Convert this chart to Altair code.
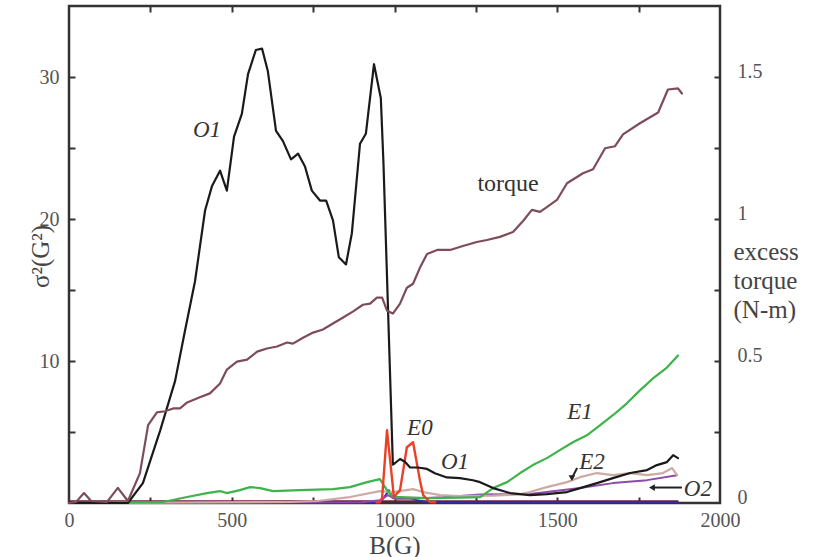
import altair as alt
import pandas as pd

# ---------------- data ----------------
# O1 (black), sigma^2 in G^2
O1_B = [0, 181, 227, 280, 326, 356, 387, 418, 439, 464, 485, 507, 531, 550, 574, 593, 611, 636, 657, 682,
        704, 725, 746, 771, 790, 811, 829, 851, 869, 894, 912, 937, 958, 966, 995, 1001, 1017, 1032, 1048, 1072,
        1100, 1124, 1161, 1201, 1241, 1263, 1303, 1355, 1416, 1468, 1530, 1570, 1622, 1671, 1724, 1776, 1806, 1837, 1856, 1871]
O1_V = [0, 0, 1.4, 5.1, 8.6, 12.1, 15.6, 20.6, 22.3, 23.4, 22.0, 25.8, 27.4, 30.2, 31.9, 32.0, 30.4, 26.2, 25.5, 24.2,
        24.6, 23.7, 22.0, 21.3, 21.3, 19.9, 17.3, 16.8, 19.0, 25.3, 26.0, 30.9, 28.5, 24.0, 2.7, 2.8, 3.1, 2.9, 2.5, 2.5,
        2.4, 2.1, 1.8, 1.75, 1.6, 1.47, 1.05, 0.70, 0.56, 0.63, 0.77, 1.05, 1.40, 1.75, 2.11, 2.32, 2.67, 2.88, 3.37, 3.16]

# excess torque (N-m), right axis
TQ_B = [0, 22, 46, 68, 117, 150, 181, 218, 243, 270, 295, 320, 341, 363, 402, 433, 464, 485, 516, 547,
        578, 608, 639, 670, 688, 719, 750, 780, 811, 842, 872, 903, 925, 946, 962, 977, 995, 1017, 1038, 1057,
        1078, 1100, 1131, 1171, 1210, 1253, 1284, 1324, 1364, 1395, 1422, 1447, 1468, 1499, 1530, 1579, 1610, 1647, 1677, 1702,
        1754, 1810, 1840, 1871, 1883]
TQ_V = [0, 0.004, 0.035, 0.007, 0.004, 0.053, 0.007, 0.105, 0.274, 0.319, 0.323, 0.333, 0.333, 0.354, 0.372, 0.386, 0.421, 0.470, 0.498, 0.505,
        0.533, 0.544, 0.551, 0.565, 0.561, 0.582, 0.600, 0.611, 0.632, 0.653, 0.674, 0.698, 0.702, 0.723, 0.723, 0.677, 0.667, 0.702, 0.758, 0.772,
        0.828, 0.877, 0.891, 0.891, 0.905, 0.919, 0.926, 0.937, 0.954, 0.993, 1.032, 1.025, 1.042, 1.067, 1.126, 1.161, 1.175, 1.249, 1.256, 1.298,
        1.337, 1.375, 1.456, 1.460, 1.442]

# E1 (green)
E1_B = [0, 289, 363, 424, 464, 485, 525, 556, 587, 627, 710, 811, 863, 916, 955, 977, 995, 1017, 1100, 1201,
        1263, 1303, 1346, 1386, 1425, 1468, 1508, 1548, 1591, 1631, 1671, 1714, 1754, 1794, 1837, 1871]
E1_V = [0, 0.07, 0.42, 0.70, 0.84, 0.70, 0.91, 1.12, 1.05, 0.84, 0.91, 0.98, 1.12, 1.47, 1.68, 0.91, 0.42, 0.42, 0.35, 0.38,
        0.42, 1.05, 1.47, 2.11, 2.67, 3.16, 3.72, 4.28, 4.77, 5.47, 6.18, 7.02, 7.93, 8.77, 9.54, 10.39]

# E0 (red)
E0_B = [945, 955, 962, 977, 992, 998, 1017, 1038, 1057, 1078, 1088, 1109, 1125]
E0_V = [0.05, 0.05, 0.35, 5.12, 1.82, 0.42, 0.91, 3.93, 4.28, 1.61, 0.56, 0.07, 0.05]

# E2 (light brown)
E2_B = [0, 679, 762, 863, 955, 995, 1057, 1088, 1140, 1201, 1303, 1380, 1416, 1468, 1530, 1570, 1622, 1671, 1724, 1776,
        1825, 1853, 1868]
E2_V = [0, 0.07, 0.14, 0.42, 0.84, 0.77, 0.98, 0.77, 0.56, 0.49, 0.52, 0.6, 0.77, 1.12, 1.47, 1.82, 2.11, 1.96, 2.11, 1.96,
        2.11, 2.46, 1.96]

# O2 (purple)
O2_B = [0, 900, 955, 980, 1000, 1048, 1150, 1263, 1416, 1570, 1671, 1776, 1868]
O2_V = [0, 0.05, 0.2, 0.55, 0.3, 0.3, 0.4, 0.6, 0.63, 1.05, 1.40, 1.61, 1.96]

# unlabelled dark blue trace
BL_B = [0, 955, 968, 983, 995, 1048, 1068, 1100, 1870]
BL_V = [0, 0.05, 0.4, 0.9, 0.35, 0.35, 0.2, 0.05, 0.05]

# unlabelled dark maroon trace along zero
BASE_B = [0, 600, 1200, 1870]
BASE_V = [0.12, 0.12, 0.12, 0.12]

# curve labels (italic)
LABEL_TEXT = ["O1", "E0", "O1", "E1", "E2", "O2"]
LABEL_B = [424, 1078, 1186, 1570, 1607, 1932]
LABEL_V = [26.3, 5.26, 2.88, 6.4, 2.88, 0.98]

TORQUE_TEXT = ["torque"]
TORQUE_B = [1349]
TORQUE_V = [22.46]

# arrows: from -> to (head)
ARROW_B_FROM = [1561, 1883]
ARROW_V_FROM = [2.46, 1.09]
ARROW_B_TO = [1545, 1791]
ARROW_V_TO = [1.75, 1.09]
ARROW_HEAD = ["triangle-down", "triangle-left"]

# axis ticks / labels
X_LABELS = [0, 500, 1000, 1500, 2000]
X_TICKS = [250, 500, 750, 1000, 1250, 1500, 1750]
YL_LABELS = [10, 20, 30]
YL_TICKS = [5, 10, 15, 20, 25, 30]
YR_LABELS = [0, 0.5, 1, 1.5]

# ---------------- chart ----------------
FONT = "Liberation Serif"
W, H = 651, 497

xs = alt.Scale(domain=[0, 2000], nice=False, zero=False)
ys = alt.Scale(domain=[0, 35], nice=False, zero=False)
yt = alt.Scale(domain=[0, 1.75], nice=False, zero=False)

LBL = dict(labelFont=FONT, labelFontSize=20, labelColor="#555555",
           titleFont=FONT, titleFontSize=25, titleFontWeight="normal", titleColor="#444444",
           grid=False, domain=False)
TCK = dict(labels=False, domain=False, grid=False, ticks=True, tickSize=6, tickWidth=2,
           tickColor="#333333", offset=-6, title=None)

ax_bottom = alt.Axis(orient="bottom", values=X_LABELS, format="d", ticks=False, tickSize=0, labelPadding=7,
                     labelFlush=False, title="B(G)", titleY=42, titleBaseline="middle", **LBL)
ax_left = alt.Axis(orient="left", values=YL_LABELS, format="d", ticks=False, tickSize=0, labelPadding=10,
                   labelBaseline="middle", title="σ²(G²)", titleX=-29, titleY=250, titleAngle=270,
                   titleAlign="center", titleBaseline="middle", **LBL)
ax_right = alt.Axis(orient="right", values=YR_LABELS, format="~g", ticks=False, tickSize=0, labelPadding=17,
                    labelBaseline="alphabetic", title=["excess", "torque", "(N-m)"], titleAngle=0,
                    titleAlign="left", titleBaseline="top", titleX=13, titleY=233, titleLineHeight=29, **LBL)
ax_tb = alt.Axis(orient="bottom", values=X_TICKS, **TCK)
ax_tt = alt.Axis(orient="top", values=X_TICKS, **TCK)
ax_tl = alt.Axis(orient="left", values=YL_TICKS, **TCK)
ax_tr = alt.Axis(orient="right", values=YL_TICKS, **TCK)


def line(b, v, color, width, xaxis=None, yaxis=None, yscale=ys):
    return alt.Chart(pd.DataFrame({"B": b, "v": v})).mark_line(
        color=color, strokeWidth=width, strokeJoin="round", strokeCap="round"
    ).encode(
        x=alt.X("B:Q", scale=xs, axis=xaxis),
        y=alt.Y("v:Q", scale=yscale, axis=yaxis),
    )


base = line(BASE_B, BASE_V, "#6e1f3f", 2)
blue = line(BL_B, BL_V, "#2e2e9c", 2)
o2 = line(O2_B, O2_V, "#8d4aa8", 2)
e2 = line(E2_B, E2_V, "#cdaaa2", 2.2)
e1 = line(E1_B, E1_V, "#3db34a", 2.2)
e0 = line(E0_B, E0_V, "#ec4026", 2.4)
o1 = line(O1_B, O1_V, "#1a1a1a", 2.2, xaxis=ax_bottom, yaxis=ax_left)
tq = line(TQ_B, TQ_V, "#7e4c58", 2.2, xaxis=ax_tt, yaxis=ax_right, yscale=yt)

labels = alt.Chart(pd.DataFrame({"t": LABEL_TEXT, "B": LABEL_B, "v": LABEL_V})).mark_text(
    font=FONT, fontStyle="italic", fontSize=23, color="#333333", baseline="middle", align="center"
).encode(
    x=alt.X("B:Q", scale=xs, axis=ax_tb),
    y=alt.Y("v:Q", scale=ys, axis=ax_tl),
    text="t:N",
)

tlabel = alt.Chart(pd.DataFrame({"t": TORQUE_TEXT, "B": TORQUE_B, "v": TORQUE_V})).mark_text(
    font=FONT, fontSize=24, color="#333333", baseline="middle", align="center"
).encode(
    x=alt.X("B:Q", scale=xs, axis=None),
    y=alt.Y("v:Q", scale=ys, axis=ax_tr),
    text="t:N",
)

arr_df = pd.DataFrame({"B": ARROW_B_FROM, "v": ARROW_V_FROM, "B2": ARROW_B_TO, "v2": ARROW_V_TO,
                       "shape": ARROW_HEAD})
rules = alt.Chart(arr_df).mark_rule(color="#222222", strokeWidth=2).encode(
    x=alt.X("B:Q", scale=xs, axis=None),
    y=alt.Y("v:Q", scale=ys, axis=None),
    x2="B2:Q",
    y2="v2:Q",
)
heads = alt.Chart(arr_df).mark_point(filled=True, color="#222222", size=45, opacity=1).encode(
    x=alt.X("B2:Q", scale=xs, axis=None),
    y=alt.Y("v2:Q", scale=ys, axis=None),
    shape=alt.Shape("shape:N", scale=None),
)

chart = alt.layer(base, blue, o2, e2, e1, e0, o1, tq, labels, tlabel, rules, heads).resolve_scale(
    y="independent"
).resolve_axis(
    x="independent", y="independent"
).properties(
    width=W, height=H,
    autosize=alt.AutoSizeParams(type="none"),
    padding={"left": 69, "top": 6, "right": 98, "bottom": 54},
    background="white",
).configure_view(
    stroke="#333333", strokeWidth=2.5
)

chart.save("out.html", embed_options={"renderer": "svg", "actions": False})
